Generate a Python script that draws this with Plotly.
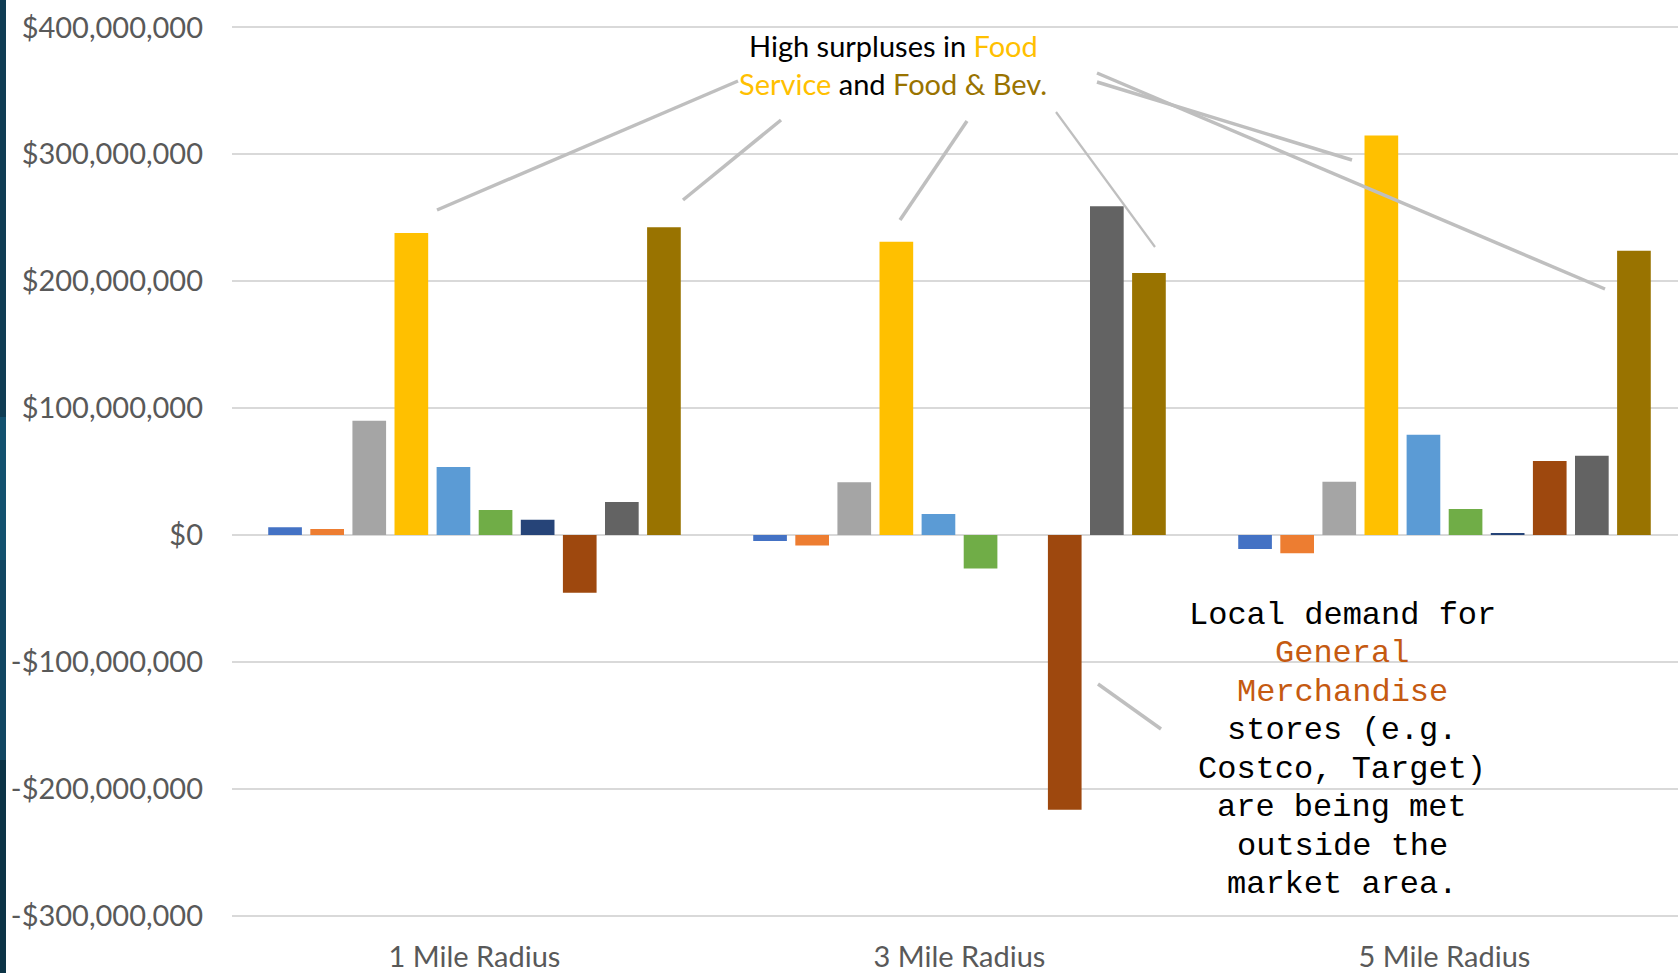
import plotly.graph_objects as go

# ---------------- data ----------------
categories = ["1 Mile Radius", "3 Mile Radius", "5 Mile Radius"]
series_names = ["Series 1", "Series 2", "Series 3", "Food Service", "Series 5",
                "Series 6", "Series 7", "General Merchandise", "Series 9", "Food & Bev."]
series_colors = ["#4472C4", "#ED7D31", "#A5A5A5", "#FFC000", "#5B9BD5",
                 "#70AD47", "#264478", "#9E480E", "#636363", "#997300"]
# surplus / leakage in $ millions, one list per series (1, 3, 5 mile)
s1 = [6.1, -4.7, -11.0]
s2 = [4.7, -8.4, -14.5]
s3 = [90.0, 41.5, 42.0]
s4 = [238.0, 231.0, 314.7]
s5 = [53.6, 16.5, 79.0]
s6 = [19.7, -26.5, 20.5]
s7 = [12.0, 0.0, 1.6]
s8 = [-45.5, -216.5, 58.3]
s9 = [26.0, 259.0, 62.5]
s10 = [242.5, 206.5, 224.0]
series_values = [s1, s2, s3, s4, s5, s6, s7, s8, s9, s10]

tick_vals = [-300e6, -200e6, -100e6, 0, 100e6, 200e6, 300e6, 400e6]
tick_text = ["-$300,000,000", "-$200,000,000", "-$100,000,000", "$0",
             "$100,000,000", "$200,000,000", "$300,000,000", "$400,000,000"]

# ---------------- layout geometry ----------------
FW, FH = 1678, 973
ML, MR, MT, MB = 232, 0, 21, 51
PW, PH = FW - ML - MR, FH - MT - MB
CAT_PX = 485  # pixel width of one category band


def px(x):
    return (x - ML) / PW


def py(y):
    return (FH - MB - y) / PH


fig = go.Figure()
for name, color, vals in zip(series_names, series_colors, series_values):
    fig.add_trace(go.Bar(
        x=categories, y=[v * 1e6 for v in vals], name=name,
        marker=dict(color=color, line=dict(width=0)),
    ))

shapes = []
# slide accent strip on the left edge
strip = [(0, 417, "#0F3C54"), (417, 560, "#13516F"), (560, 760, "#114662"),
         (760, 973, "#0C3346")]
for y0, y1, c in strip:
    shapes.append(dict(type="rect", xref="paper", yref="paper",
                       x0=px(0), x1=px(6), y0=py(y1), y1=py(y0),
                       fillcolor=c, line=dict(width=0), layer="above"))

# leader lines (pixel endpoints)
leaders = [
    ((437, 210), (738, 81), 3.5),
    ((683, 200), (781, 120), 3.5),
    ((900, 220), (967, 121), 3.5),
    ((1056, 112), (1155, 247), 2.2),
    ((1097, 73), (1605, 289), 3.5),
    ((1097, 82), (1352, 160), 3.5),
    ((1098, 684), (1161, 729), 3.5),
]
for (x0, y0), (x1, y1), w in leaders:
    shapes.append(dict(type="line", xref="paper", yref="paper",
                       x0=px(x0), y0=py(y0), x1=px(x1), y1=py(y1),
                       line=dict(color="#BFBFBF", width=w), layer="above"))

annotations = []
sans = "Lato"
ann1 = [
    ("High surpluses in <span style='color:#FFC000'>Food</span>", 46),
    ("<span style='color:#FFC000'>Service</span> and "
     "<span style='color:#997300'>Food &amp; Bev.</span>", 83),
]
for txt, y in ann1:
    annotations.append(dict(text=txt, xref="paper", yref="paper",
                            x=px(893), y=py(y), xanchor="center", yanchor="middle",
                            showarrow=False,
                            font=dict(family=sans, size=29, color="#000000")))

ann2 = [
    ("Local demand for", "#000000", 615),
    ("General", "#C55A11", 653),
    ("Merchandise", "#C55A11", 692),
    ("stores (e.g.", "#000000", 730),
    ("Costco, Target)", "#000000", 769),
    ("are being met", "#000000", 807),
    ("outside the", "#000000", 846),
    ("market area.", "#000000", 884),
]
for txt, col, y in ann2:
    annotations.append(dict(text=txt, xref="paper", yref="paper",
                            x=px(1342), y=py(y), xanchor="center", yanchor="middle",
                            showarrow=False,
                            font=dict(family="Liberation Mono", size=32, color=col)))

fig.update_layout(
    width=FW, height=FH, autosize=False,
    margin=dict(l=ML, r=MR, t=MT, b=MB, pad=0),
    paper_bgcolor="white", plot_bgcolor="white",
    barmode="group", bargap=0.132, bargroupgap=0.2,
    showlegend=False,
    shapes=shapes, annotations=annotations,
    font=dict(family=sans, color="#595959"),
)
fig.update_xaxes(showgrid=False, showline=False, zeroline=False, ticks="",
                 range=[-0.5, -0.5 + PW / CAT_PX],
                 tickfont=dict(family=sans, size=29, color="#595959"),
                 ticklabelstandoff=15)
fig.update_yaxes(range=[-305e6, 405e6], tickvals=tick_vals, ticktext=tick_text,
                 showgrid=True, gridcolor="#D9D9D9", gridwidth=1.5,
                 zeroline=True, zerolinecolor="#D9D9D9", zerolinewidth=1.5,
                 showline=False, ticks="", ticklabelstandoff=28,
                 tickfont=dict(family=sans, size=29, color="#595959"))

fig.write_html("out.html")
